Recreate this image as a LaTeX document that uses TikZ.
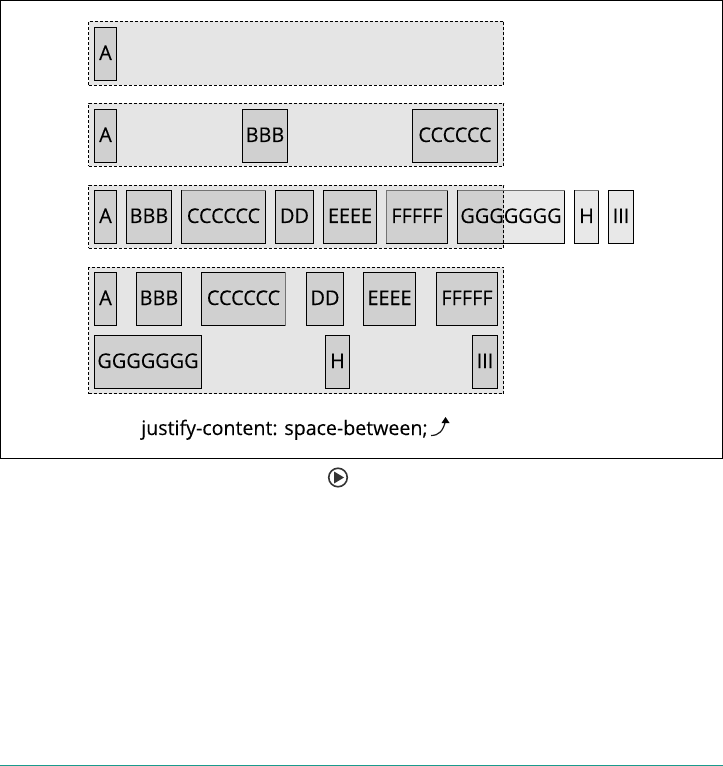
\documentclass[tikz,border=0pt]{standalone}
\usepackage{fontspec}
\setmainfont{Open Sans}
\newfontfamily\labelfont[FakeBold=0.12,FakeStretch=0.98]{Open Sans}
\newcommand{\fitem}[6]{\node[flexitem,minimum width={(#4-#2)*0.75pt},minimum height={(#5-#3)*0.75pt}] (#1) at ({(#2+#4)/2},{(#3+#5)/2}) {#6};}
\newcommand{\fbar}[5]{\node[flexbar,minimum width={(#4-#2)*0.75pt},minimum height={(#5-#3)*0.75pt}] (#1) at ({(#2+#4)/2},{(#3+#5)/2}) {};}
\tikzset{
  flexbar/.style={draw=black,fill=black!10,line width=0.75pt,dash pattern=on 2.25pt off 1.5pt,inner sep=0pt,outer sep=0pt},
  flexitem/.style={draw=black,fill=black,fill opacity=0.09,draw opacity=1,text opacity=1,line width=0.75pt,inner sep=0pt,outer sep=0pt,
    font=\labelfont\fontsize{15.2pt}{18pt}\selectfont,text height=11.25pt,text depth=2.25pt,align=center},
  softedge/.style={draw=black!55,line width=0.75pt},
}
\begin{document}
\begin{tikzpicture}[x=0.75pt,y=-0.75pt]
\useasboundingbox (0,0) rectangle (723,766);
\node[draw=black,line width=0.75pt,inner sep=0pt,outer sep=0pt,minimum width={722*0.75pt},minimum height={458*0.75pt}] (frame) at (361.5,229.5) {};

\fbar{boxa}{88.5}{21.5}{503.5}{85.5}
\fitem{a1}{94.5}{27.5}{116.5}{80.5}{A}

\fbar{boxb}{88.5}{103.5}{503.5}{166.5}
\fitem{a2}{94.5}{109.5}{116.5}{162.5}{A}
\fitem{b2}{242.5}{109.5}{287.5}{162.5}{BBB}
\fitem{c2}{412.5}{109.5}{497.5}{162.5}{CCCCCC}

\fbar{boxc}{88.5}{185.5}{503.5}{248.5}
\fitem{a3}{94.5}{190.5}{116.5}{243.5}{A}
\fitem{b3}{126.5}{190.5}{171.5}{243.5}{BBB}
\fitem{c3}{181.5}{190.5}{265.5}{243.5}{CCCCCC}
\fitem{d3}{275.5}{190.5}{313.5}{243.5}{DD}
\fitem{e3}{323.5}{190.5}{376.5}{243.5}{EEEE}
\fitem{f3}{386.5}{190.5}{447.5}{243.5}{FFFFF}
\fitem{g3}{457.5}{190.5}{564.5}{243.5}{GGGGGGG}
\fitem{h3}{574.5}{190.5}{598.5}{243.5}{H}
\fitem{i3}{608.5}{190.5}{633.5}{243.5}{III}
\draw[softedge] (c3.north west) -- (c3.north east);
\draw[softedge] (f3.south west) -- (f3.north west) -- (f3.north east);
\draw[softedge] (g3.north west) -- (g3.north east);
\draw[softedge] (h3.north west) -- (h3.north east);

\fbar{boxd}{88.5}{267.5}{503.5}{393.5}
\fitem{a4}{94.5}{272.5}{116.5}{325.5}{A}
\fitem{b4}{136.5}{272.5}{181.5}{325.5}{BBB}
\fitem{c4}{201.5}{272.5}{285.5}{325.5}{CCCCCC}
\fitem{d4}{306.5}{272.5}{343.5}{325.5}{DD}
\fitem{e4}{363.5}{272.5}{415.5}{325.5}{EEEE}
\fitem{f4}{436.5}{272.5}{497.5}{325.5}{FFFFF}
\fitem{g4}{94.5}{335.5}{201.5}{388.5}{GGGGGGG}
\fitem{h4}{325.5}{335.5}{349.5}{388.5}{H}
\fitem{i4}{472.5}{335.5}{497.5}{388.5}{III}
\draw[softedge] (c4.north east) -- (c4.south east);

\node[anchor=base west,inner sep=0pt,font=\labelfont\fontsize{15pt}{18pt}\selectfont] (cap) at (141,435) {justify-content: space-between;};
\coordinate (arrowtail) at (431,435.5);
\coordinate (arrowtip) at (445.5,417);
\draw[line width=0.9pt,black!90] (arrowtail) .. controls (439,435.5) and (443,431) .. (445.5,421);
\fill[black] (arrowtip) -- (449.5,423) -- (441.5,423) -- cycle;

\node[circle,draw=black!80,line width=1.2pt,inner sep=0pt,outer sep=0pt,minimum size={18.5*0.75pt}] (play) at (338,477.5) {};
\fill[black!80] (334,471.5) -- (344,477.5) -- (334,483.5) -- cycle;

\coordinate (ruleleft) at (0,765.5);
\coordinate (ruleright) at (723,765.5);
\draw[line width=0.75pt,color={rgb,255:red,26;green,154;blue,140}] (ruleleft) -- (ruleright);
\end{tikzpicture}
\end{document}
